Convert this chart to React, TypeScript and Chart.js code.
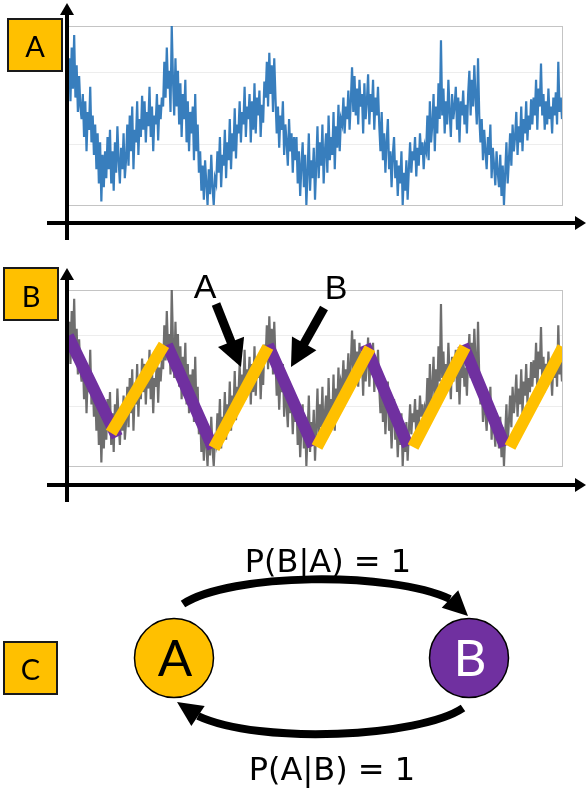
import React, { useEffect, useRef } from 'react';
import { Chart, registerables } from 'chart.js';

Chart.register(...registerables);

// Recorded signal shown in panels A and B (0 = bottom of plot box, 100 = top)
const signal: number[] = [
  70, 82, 58, 88, 65, 95, 60, 78, 52, 72, 55,
  48, 62, 38, 58, 30, 52, 42, 66, 35, 50, 28, 45,
  20, 40, 12, 35, 2, 28, 10, 30,
  15, 38, 20, 42, 12, 30, 8, 35, 18, 44, 25, 12, 32, 20, 40, 15,
  25, 45, 22, 50, 30, 55, 20, 42, 35, 58, 28, 48, 38, 61,
  42, 58, 35, 52, 44, 66, 38, 55, 30, 50, 45, 62, 36, 56, 48, 60,
  55, 80, 60, 88, 65, 75, 52, 100,
  70, 50, 82, 55, 75, 45, 68, 38, 62, 48, 70, 35, 58, 30, 52, 40,
  55, 25, 62, 30, 45,
  18, 30, 8, 22, 3, 25, 12, 0, 20, 6, 28, 10, 0, 15,
  12, 30, 18, 38, 10, 28, 22, 42, 15, 35, 25, 48, 20, 40, 30, 54, 26, 45,
  40, 58, 35, 52, 45, 66, 38, 55, 48, 62, 35, 58, 42, 68, 40, 60, 50, 64, 38, 56, 46, 69,
  60, 80, 55, 85, 62, 78, 52, 82,
  60, 40, 55, 32, 50, 42, 58, 28, 45, 35, 22, 48, 30, 40, 18, 38,
  25, 38, 12, 30, 5, 22, 35, 10, 28, 0, 18, 40, 8, 25, 15, 32, 3, 22, 44,
  15, 35, 22, 45, 12, 30, 40, 18, 50, 25, 38, 28, 52, 20, 44, 32, 56, 30, 48,
  45, 60, 40, 55, 48, 64, 42, 58,
  77, 52, 72,
  50, 65, 45, 70, 55, 62, 40, 68, 48, 58, 73, 45, 62, 52, 70, 42, 60, 50, 66,
  45, 30, 52, 25, 40, 18, 35, 48, 20, 30, 10, 28, 38, 15, 25, 5, 22, 12, 30, 0, 18, 8, 25, 3,
  20, 35, 18, 30, 25, 38, 16, 32, 22, 40, 28, 35, 20, 33,
  30, 50, 25, 58, 35, 45, 62, 30, 55, 40, 68, 48,
  92,
  50, 65, 40, 58, 45, 70, 52, 38, 62, 48, 55, 66, 42, 60, 35, 58, 50, 64, 45, 56, 40,
  62, 75, 50, 70, 55, 78, 60, 45, 82,
  50, 35, 48, 25, 42, 30, 20, 38, 28, 45, 15, 32, 22, 11, 30, 18,
  10, 28, 5, 22, 0, 18, 35, 12,
  25, 40, 22, 45, 30, 38, 52, 28, 44, 35, 55, 30, 48, 40, 58, 36, 50, 42, 59,
  45, 60, 50, 70, 42, 65, 55, 79,
  50, 62, 42, 58, 45, 65, 48, 55, 40, 60, 50, 63, 45, 80, 52, 60, 48,
];

const gridValues = [0, 34, 74, 100];

// Fitted state segments in panel B (state B = falling, state A = rising)
const fallStartX = [0, 80.2, 161.9, 240.5, 319.8];
const fallEndX = [39.7, 117.4, 198.4, 275.3, 353.8];
const fallStartY = [73.9, 68.8, 68.8, 68.8, 68.8];
const fallEndY = [16.5, 10.2, 11.4, 11.4, 11.4];
const riseStartX = [34.8, 118.2, 201.6, 279.4, 357.9];
const riseEndX = [77.7, 161.9, 244.5, 321.5, 400.8];
const riseStartY = [18.8, 10.2, 10.8, 10.8, 10.8];
const riseEndY = [68.8, 67.6, 67, 67.6, 67.6];

const panelLabels = ['A', 'B', 'C'];
const pointerLabels = ['A', 'B'];
const stateNames = ['A', 'B'];
const stateColors = ['#FFC000', '#7030A0'];
const stateTextColors = ['#000000', '#FFFFFF'];
const transitionLabels = ['P(B|A) = 1', 'P(A|B) = 1'];

const ORANGE = '#FFC000';
const PURPLE = '#7030A0';

function buildSegments(sx: number[], sy: number[], ex: number[], ey: number[]) {
  const out: any[] = [];
  for (let k = 0; k < sx.length; k++) {
    out.push({ x: sx[k], y: sy[k] }, { x: ex[k], y: ey[k] });
    if (k < sx.length - 1) out.push({ x: (ex[k] + sx[k + 1]) / 2, y: null });
  }
  return out;
}

function drawLabelBox(ctx: CanvasRenderingContext2D, x: number, y: number, w: number, h: number, text: string, baseline: number) {
  ctx.save();
  ctx.fillStyle = ORANGE;
  ctx.fillRect(x, y, w, h);
  ctx.lineWidth = 2;
  ctx.strokeStyle = '#1a1a1a';
  ctx.strokeRect(x, y, w, h);
  ctx.fillStyle = '#000';
  ctx.font = '400 29px Lato, "Open Sans", sans-serif';
  ctx.textAlign = 'center';
  ctx.textBaseline = 'alphabetic';
  ctx.fillText(text, x + w / 2, baseline);
  ctx.restore();
}

function drawArrow(ctx: CanvasRenderingContext2D, x1: number, y1: number, x2: number, y2: number, lw: number, headLen: number, headHalf: number) {
  const dx = x2 - x1, dy = y2 - y1;
  const len = Math.hypot(dx, dy);
  const ux = dx / len, uy = dy / len;
  const bx = x2 - ux * headLen, by = y2 - uy * headLen;
  ctx.save();
  ctx.strokeStyle = '#000';
  ctx.fillStyle = '#000';
  ctx.lineWidth = lw;
  ctx.lineCap = 'butt';
  ctx.beginPath();
  ctx.moveTo(x1, y1);
  ctx.lineTo(bx + ux, by + uy);
  ctx.stroke();
  ctx.beginPath();
  ctx.moveTo(x2, y2);
  ctx.lineTo(bx - uy * headHalf, by + ux * headHalf);
  ctx.lineTo(bx + uy * headHalf, by - ux * headHalf);
  ctx.closePath();
  ctx.fill();
  ctx.restore();
}

function drawCurvedArrow(ctx: CanvasRenderingContext2D, s: number[], c1: number[], c2: number[], e: number[], tip: number[], lw: number, half: number) {
  ctx.save();
  ctx.strokeStyle = '#000';
  ctx.fillStyle = '#000';
  ctx.lineWidth = lw;
  ctx.lineCap = 'butt';
  ctx.beginPath();
  ctx.moveTo(s[0], s[1]);
  ctx.bezierCurveTo(c1[0], c1[1], c2[0], c2[1], e[0], e[1]);
  ctx.stroke();
  const dx = tip[0] - e[0], dy = tip[1] - e[1];
  const len = Math.hypot(dx, dy);
  const ux = dx / len, uy = dy / len;
  ctx.beginPath();
  ctx.moveTo(tip[0], tip[1]);
  ctx.lineTo(e[0] - uy * half, e[1] + ux * half);
  ctx.lineTo(e[0] + uy * half, e[1] - ux * half);
  ctx.closePath();
  ctx.fill();
  ctx.restore();
}

function signalScales() {
  return {
    x: { type: 'linear', min: 0, max: signal.length - 1, display: false },
    y: {
      type: 'linear',
      min: 0,
      max: 100,
      afterBuildTicks: (s: any) => {
        s.ticks = gridValues.map((v) => ({ value: v }));
      },
      ticks: { display: false },
      grid: {
        drawTicks: false,
        lineWidth: 1,
        color: (c: any) => (c.tick && (c.tick.value === 0 || c.tick.value === 100) ? '#C4C4C4' : '#EDEDED'),
      },
      border: { display: false },
    },
    y2: {
      type: 'linear',
      position: 'right',
      min: 0,
      max: 100,
      ticks: { display: false },
      grid: { display: false, drawTicks: false },
      border: { display: true, color: '#C4C4C4', width: 1 },
    },
  };
}

function configA(): any {
  return {
    type: 'line',
    data: {
      datasets: [
        {
          data: signal.map((v, i) => ({ x: i, y: v })),
          borderColor: 'rgba(34,112,182,0.9)',
          borderWidth: 2.2,
          pointRadius: 0,
          tension: 0,
        },
      ],
    },
    options: {
      responsive: false,
      animation: false,
      events: [],
      layout: { padding: { left: 68, right: 24, top: 26, bottom: 45 } },
      scales: signalScales(),
      plugins: { legend: { display: false }, tooltip: { enabled: false } },
    },
    plugins: [
      {
        id: 'panelA',
        afterDraw(chart: any) {
          const ctx = chart.ctx;
          drawLabelBox(ctx, 8, 19, 54, 52, panelLabels[0], 57);
          drawArrow(ctx, 67, 240, 67, 3, 4, 12, 7);
          drawArrow(ctx, 47, 223, 586, 223, 4, 11, 7);
        },
      },
    ],
  };
}

function configB(): any {
  return {
    type: 'line',
    data: {
      datasets: [
        {
          data: buildSegments(riseStartX, riseStartY, riseEndX, riseEndY),
          borderColor: ORANGE,
          borderWidth: 12,
          borderCapStyle: 'butt',
          pointRadius: 0,
          spanGaps: false,
          tension: 0,
        },
        {
          data: buildSegments(fallStartX, fallStartY, fallEndX, fallEndY),
          borderColor: PURPLE,
          borderWidth: 12,
          borderCapStyle: 'butt',
          pointRadius: 0,
          spanGaps: false,
          tension: 0,
        },
        {
          data: signal.map((v, i) => ({ x: i, y: v })),
          borderColor: 'rgba(85,85,85,0.85)',
          borderWidth: 2.2,
          pointRadius: 0,
          tension: 0,
        },
      ],
    },
    options: {
      responsive: false,
      animation: false,
      events: [],
      layout: { padding: { left: 68, right: 24, top: 40, bottom: 44 } },
      scales: signalScales(),
      plugins: { legend: { display: false }, tooltip: { enabled: false } },
    },
    plugins: [
      {
        id: 'panelB',
        afterDraw(chart: any) {
          const ctx = chart.ctx;
          drawLabelBox(ctx, 4, 18, 54, 52, panelLabels[1], 57);
          drawArrow(ctx, 67, 252, 67, 18, 4, 12, 7);
          drawArrow(ctx, 47, 235, 586, 235, 4, 11, 7);
          drawArrow(ctx, 216, 54, 241, 117, 9, 27, 14);
          drawArrow(ctx, 324, 58, 291, 117, 9, 27, 14);
          ctx.save();
          ctx.fillStyle = '#000';
          ctx.font = '34px "Liberation Sans"';
          ctx.textAlign = 'center';
          ctx.textBaseline = 'alphabetic';
          ctx.fillText(pointerLabels[0], 205, 48);
          ctx.fillText(pointerLabels[1], 336, 49);
          ctx.restore();
        },
      },
    ],
  };
}

function configC(): any {
  return {
    type: 'scatter',
    data: {
      datasets: [
        {
          data: stateNames.map((n) => ({ x: n, y: 0 })),
          pointRadius: 39.5,
          pointHoverRadius: 39.5,
          pointBackgroundColor: stateColors,
          pointBorderColor: '#000',
          pointBorderWidth: 1.5,
          clip: false,
        },
      ],
    },
    options: {
      responsive: false,
      animation: false,
      events: [],
      layout: { padding: { left: 174, right: 117, top: 30, bottom: 0 } },
      scales: {
        x: { type: 'category', labels: stateNames, offset: false, display: false },
        y: { type: 'linear', min: -1, max: 1, display: false },
      },
      plugins: { legend: { display: false }, tooltip: { enabled: false } },
    },
    plugins: [
      {
        id: 'panelC',
        afterDraw(chart: any) {
          const ctx = chart.ctx;
          const pts = chart.getDatasetMeta(0).data;
          const a = pts[0], b = pts[1];
          drawLabelBox(ctx, 4, 132, 53, 52, panelLabels[2], 170);
          ctx.save();
          ctx.textAlign = 'center';
          ctx.textBaseline = 'alphabetic';
          ctx.font = '400 51px Lato, "Open Sans", sans-serif';
          pts.forEach((p: any, i: number) => {
            ctx.fillStyle = stateTextColors[i];
            ctx.fillText(stateNames[i], p.x + 1, p.y + 18);
          });
          ctx.restore();
          drawCurvedArrow(
            ctx,
            [a.x + 9, a.y - 54],
            [a.x + 56, a.y - 85],
            [b.x - 79, b.y - 87],
            [b.x - 19, b.y - 59],
            [b.x - 1, b.y - 42],
            8,
            12
          );
          drawCurvedArrow(
            ctx,
            [b.x - 6, b.y + 50],
            [b.x - 49, b.y + 79],
            [a.x + 86, a.y + 87],
            [a.x + 24, a.y + 58],
            [a.x + 3, a.y + 44],
            8,
            12
          );
          const mid = (a.x + b.x) / 2;
          ctx.save();
          ctx.fillStyle = '#000';
          ctx.font = '32px "DejaVu Sans"';
          ctx.textAlign = 'center';
          ctx.textBaseline = 'alphabetic';
          ctx.fillText(transitionLabels[0], mid + 6.5, a.y - 86);
          ctx.fillText(transitionLabels[1], mid + 10.5, a.y + 122);
          ctx.restore();
        },
      },
    ],
  };
}

function ChartCanvas({ top, height, makeConfig }: { top: number; height: number; makeConfig: () => any }) {
  const ref = useRef<HTMLCanvasElement | null>(null);
  useEffect(() => {
    if (!ref.current) return;
    const chart = new Chart(ref.current, makeConfig());
    return () => chart.destroy();
  }, [makeConfig]);
  return (
    <canvas
      ref={ref}
      width={586}
      height={height}
      style={{ position: 'absolute', left: 0, top, width: 586, height }}
    />
  );
}

export default function App() {
  return (
    <div style={{ position: 'absolute', left: 0, top: 0, width: 586, height: 806, background: '#ffffff', overflow: 'hidden' }}>
      <ChartCanvas top={0} height={250} makeConfig={configA} />
      <ChartCanvas top={250} height={260} makeConfig={configB} />
      <ChartCanvas top={510} height={296} makeConfig={configC} />
    </div>
  );
}
